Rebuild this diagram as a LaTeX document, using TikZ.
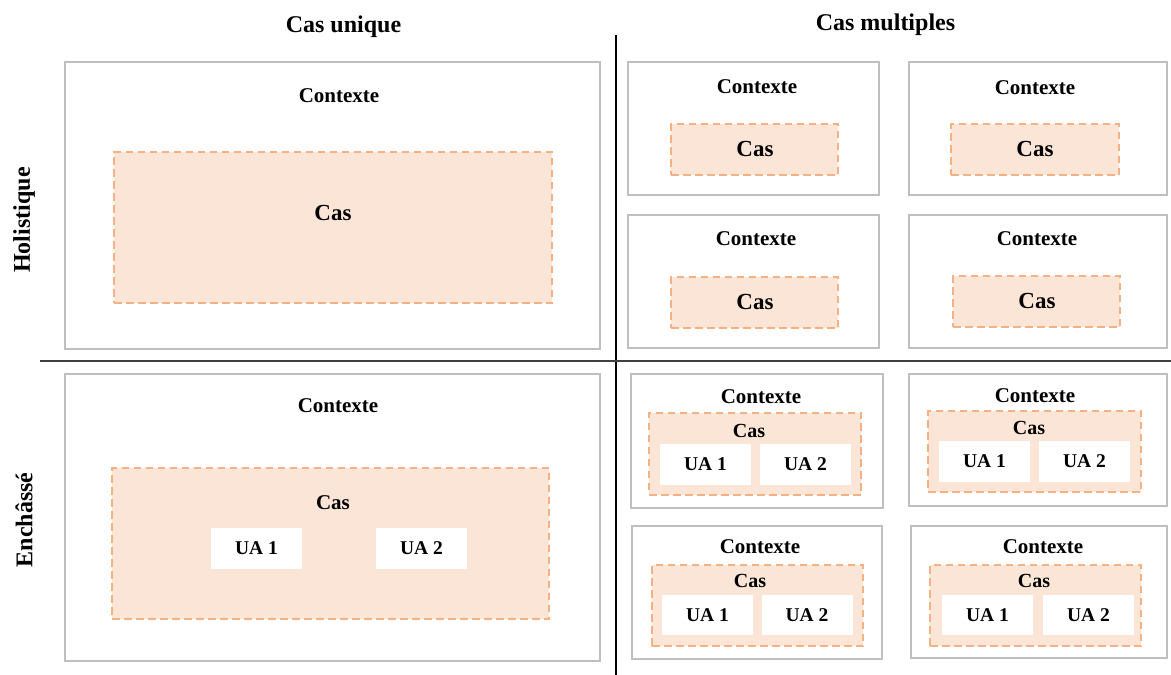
\documentclass[tikz,border=0pt]{standalone}
\usepackage{fontspec}
\setmainfont{Liberation Serif}
\usepackage{xcolor}
\usepackage{tikz}
\usetikzlibrary{calc}

\definecolor{ctxgray}{HTML}{BFBFBF}
\definecolor{casline}{HTML}{F4B183}
\definecolor{casfill}{HTML}{FBE5D6}

\begin{document}
\begin{tikzpicture}[x=1pt,y=-1pt,
    box/.style={rectangle, inner sep=0pt, outer sep=0pt},
    ctx/.style={box, draw=ctxgray, line width=2pt, fill=white},
    cas/.style={box, draw=casline, fill=casfill, line width=2pt,
      dash pattern=on 7.5pt off 4.5pt},
    ua/.style={box, fill=white, font=\fontsize{19.5}{22}\selectfont\bfseries},
    head/.style={font=\fontsize{24}{28}\selectfont\bfseries, inner sep=0pt},
    side/.style={font=\fontsize{24}{28}\selectfont\bfseries, rotate=90, inner sep=0pt},
    txt/.style={font=\fontsize{#1}{#1}\selectfont\bfseries, inner sep=0pt}
  ]
  \useasboundingbox (0,0) rectangle (1171,675);

  % titles
  \node[head] (unique) at (343.5,27) {Cas unique};
  \node[head] (multi) at (885.5,25) {Cas multiples};
  \node[side] (holi) at (24,220) {Holistique};
  \node[side] (ench) at (24,520) {Ench\^ass\'e};

  % separators
  \coordinate (vtop) at (616,35);
  \coordinate (vbot) at (616,675);
  \coordinate (hleft) at (40,361);
  \coordinate (hright) at (1171,361);
  \draw[black, line width=1.3pt] (vtop) -- (vbot);
  \draw[black!75, line width=1.8pt] (hleft) -- (hright);

  % cas unique, holistique
  \node[ctx, minimum width=535, minimum height=287] (c1) at (332.5,205.5) {};
  \node[txt=21] (c1t) at (339,96) {Contexte};
  \node[cas, minimum width=438, minimum height=151] (k1) at (333,227.5) {};
  \node[txt=23] (k1t) at (333,213) {Cas};

  % cas unique, enchasse
  \node[ctx, minimum width=535, minimum height=287] (c2) at (332.5,517.5) {};
  \node[txt=21] (c2t) at (338,406) {Contexte};
  \node[cas, minimum width=437, minimum height=151] (k2) at (330.5,543.5) {};
  \node[txt=21] (k2t) at (333,503) {Cas};
  \node[ua, minimum width=91, minimum height=41] (k2a) at (256.5,548.5) {UA 1};
  \node[ua, minimum width=91, minimum height=41] (k2b) at (421.5,548.5) {UA 2};

  % cas multiples, holistique
  \node[ctx, minimum width=251, minimum height=133] (c3) at (753.5,128.5) {};
  \node[txt=21] (c3t) at (757,87) {Contexte};
  \node[cas, minimum width=167, minimum height=51] (k3) at (754.5,149.5) {};
  \node[txt=23] (k3t) at (755,149) {Cas};

  \node[ctx, minimum width=258, minimum height=133] (c4) at (1038,128.5) {};
  \node[txt=21] (c4t) at (1035,88) {Contexte};
  \node[cas, minimum width=168, minimum height=51] (k4) at (1035,149.5) {};
  \node[txt=23] (k4t) at (1035,149) {Cas};

  \node[ctx, minimum width=251, minimum height=133] (c5) at (753.5,281.5) {};
  \node[txt=21] (c5t) at (756,239) {Contexte};
  \node[cas, minimum width=167, minimum height=51] (k5) at (754.5,302.5) {};
  \node[txt=23] (k5t) at (755,302) {Cas};

  \node[ctx, minimum width=258, minimum height=133] (c6) at (1038,281.5) {};
  \node[txt=21] (c6t) at (1037,239) {Contexte};
  \node[cas, minimum width=167, minimum height=51] (k6) at (1036.5,301.5) {};
  \node[txt=23] (k6t) at (1037,301) {Cas};

  % cas multiples, enchasse
  \node[ctx, minimum width=252, minimum height=134] (c7) at (756.5,440.5) {};
  \node[txt=21] (c7t) at (761,397) {Contexte};
  \node[cas, minimum width=212, minimum height=82] (k7) at (755,453.5) {};
  \node[txt=20] (k7t) at (749,431) {Cas};
  \node[ua, minimum width=91, minimum height=41] (k7a) at (705.5,464.5) {UA 1};
  \node[ua, minimum width=91, minimum height=41] (k7b) at (805.5,464.5) {UA 2};

  \node[ctx, minimum width=258, minimum height=132] (c8) at (1038,440) {};
  \node[txt=21] (c8t) at (1035,396) {Contexte};
  \node[cas, minimum width=213, minimum height=81] (k8) at (1034.5,451.5) {};
  \node[txt=20] (k8t) at (1029,428) {Cas};
  \node[ua, minimum width=91, minimum height=41] (k8a) at (984.5,461.5) {UA 1};
  \node[ua, minimum width=91, minimum height=41] (k8b) at (1084.5,461.5) {UA 2};

  \node[ctx, minimum width=250, minimum height=133] (c9) at (757,592.5) {};
  \node[txt=21] (c9t) at (760,547) {Contexte};
  \node[cas, minimum width=211, minimum height=81] (k9) at (757.5,605.5) {};
  \node[txt=20] (k9t) at (750,581) {Cas};
  \node[ua, minimum width=91, minimum height=40] (k9a) at (707.5,615) {UA 1};
  \node[ua, minimum width=91, minimum height=40] (k9b) at (807,615) {UA 2};

  \node[ctx, minimum width=256, minimum height=132] (c10) at (1039,592) {};
  \node[txt=21] (c10t) at (1043,547) {Contexte};
  \node[cas, minimum width=211, minimum height=81] (k10) at (1035.5,605.5) {};
  \node[txt=20] (k10t) at (1034,581) {Cas};
  \node[ua, minimum width=91, minimum height=40] (k10a) at (987.5,615) {UA 1};
  \node[ua, minimum width=91, minimum height=40] (k10b) at (1088.5,615) {UA 2};
\end{tikzpicture}
\end{document}
